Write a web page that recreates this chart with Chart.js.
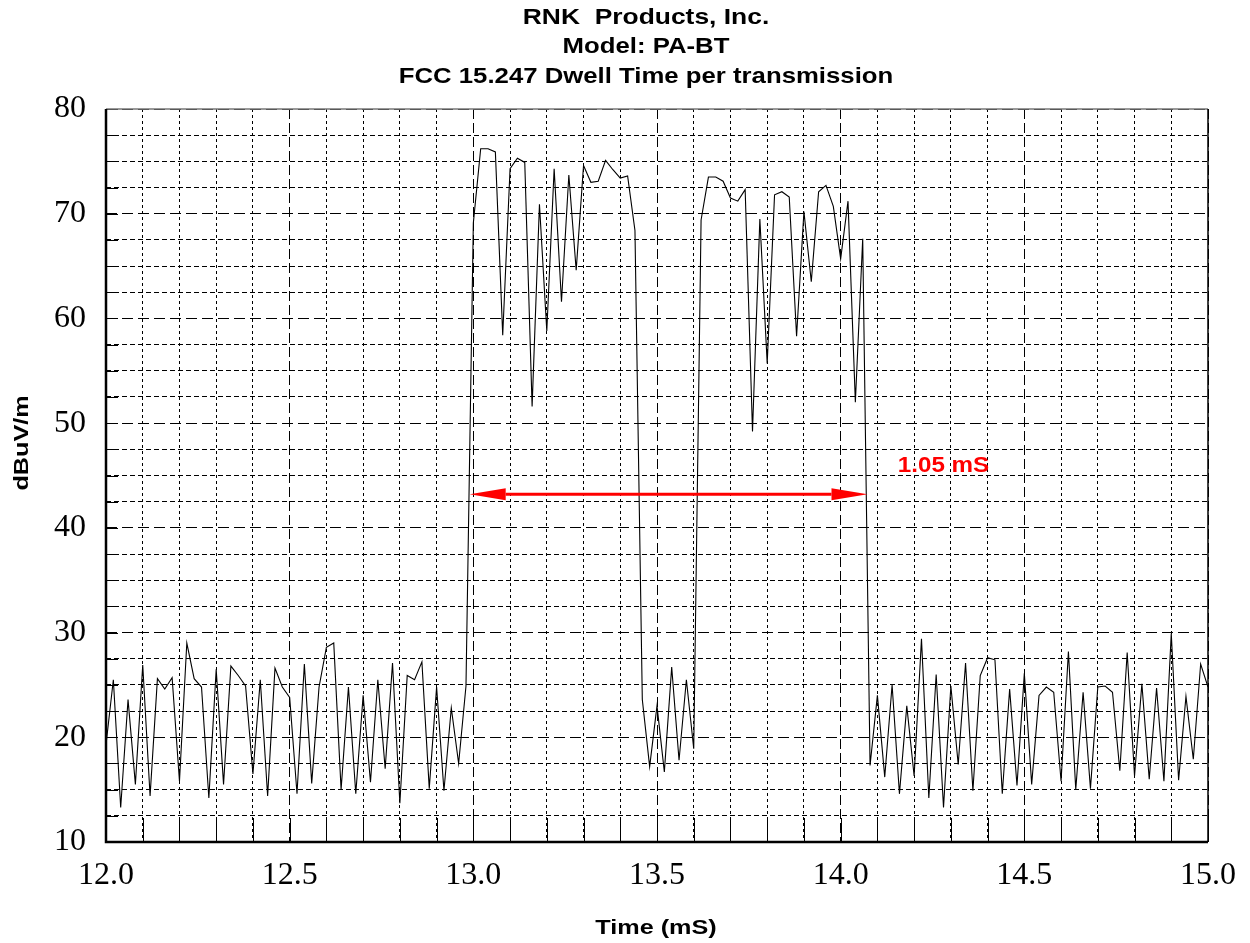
<!DOCTYPE html>
<html lang="en">
<head>
    <meta charset="UTF-8">
    <title>FCC 15.247 Dwell Time per transmission</title>
    <script src="https://cdn.jsdelivr.net/npm/chart.js"></script>
    <style>
        body {
            margin: 0;
            padding: 0;
            background-color: white;
        }

        #dwellChart {
            display: block;
        }
    </style>
</head>
<body>
    <canvas id="dwellChart" width="1250" height="943"></canvas>

    <script>
        // chart text
        const titleLines = ['RNK  Products, Inc.', 'Model: PA-BT', 'FCC 15.247 Dwell Time per transmission'];
        const xTitle = 'Time (mS)';
        const yTitle = 'dBuV/m';

        // axes
        const timeMin = 12.0;
        const timeMax = 15.0;
        const levelMin = 10;
        const levelMax = 80;

        // sweep samples: first sample time and spacing (mS)
        const sampleStart = 12.0;
        const sampleStep = 0.02;

        // measured level (dBuV/m), one value per sample
        const levels = [
            19.3, 25.5, 13.3, 23.6, 15.5, 26.9, 14.4, 25.6, 24.6, 25.7,
            15.8, 29.0, 25.6, 24.8, 14.2, 26.5, 15.5, 26.8, 25.9, 24.9,
            16.5, 25.5, 14.4, 26.6, 24.8, 23.8, 14.6, 27.0, 15.6, 24.8,
            28.6, 29.0, 15.0, 24.8, 14.6, 24.0, 15.7, 25.5, 17.0, 27.1,
            13.7, 25.9, 25.5, 27.2, 15.1, 24.8, 14.9, 22.8, 17.5, 24.9,
            69.1, 76.2, 76.2, 75.9, 58.4, 74.3, 75.3, 74.9, 51.6, 70.9,
            58.8, 74.3, 61.6, 73.7, 64.6, 74.6, 73.0, 73.1, 75.1, 74.2,
            73.4, 73.6, 68.4, 23.6, 17.2, 23.0, 16.7, 26.7, 17.8, 25.5,
            18.9, 69.4, 73.5, 73.5, 73.1, 71.5, 71.2, 72.3, 49.2, 69.5,
            55.7, 71.8, 72.1, 71.6, 58.3, 70.2, 63.5, 72.1, 72.7, 70.7,
            65.7, 71.2, 52.0, 67.6, 17.3, 24.0, 16.2, 25.0, 14.6, 23.0,
            16.3, 29.4, 14.2, 26.0, 13.3, 24.9, 17.4, 27.1, 14.9, 25.9,
            27.6, 27.4, 14.6, 24.6, 15.4, 26.1, 15.5, 24.0, 24.8, 24.3,
            15.8, 28.2, 15.0, 24.3, 15.1, 24.8, 24.9, 24.3, 16.8, 28.1,
            16.3, 25.1, 16.0, 24.7, 15.8, 29.9, 15.9, 23.9, 17.9, 27.0,
            24.8
        ];

        // dwell time marker
        const dwellLabel = '1.05 mS';
        const dwellStart = 12.99;
        const dwellEnd = 14.073;
        const dwellLevel = 43.2;
        const dwellLabelAt = [14.28, 45.9];

        const points = levels.map((v, i) => ({ x: sampleStart + i * sampleStep, y: v }));

        const isMultiple = (v, m) => Math.abs(v / m - Math.round(v / m)) < 1e-6;

        function drawText(ctx, text, x, y, font, color, sx, angle) {
            ctx.save();
            ctx.translate(x, y);
            if (angle) ctx.rotate(angle);
            ctx.scale(sx, 1);
            ctx.font = font;
            ctx.fillStyle = color;
            ctx.textAlign = 'center';
            ctx.textBaseline = 'middle';
            ctx.fillText(text, 0, 0);
            ctx.restore();
        }

        const decorations = {
            id: 'decorations',
            afterDatasetsDraw(chart) {
                const { ctx, chartArea: a, scales: { x, y } } = chart;
                ctx.save();
                ctx.strokeStyle = '#000';
                ctx.lineWidth = 1;
                // inner tick marks
                x.ticks.forEach(t => {
                    const px = Math.round(x.getPixelForValue(t.value)) + 0.5;
                    ctx.beginPath();
                    ctx.moveTo(px, a.bottom);
                    ctx.lineTo(px, a.bottom - 24);
                    ctx.stroke();
                });
                y.ticks.forEach(t => {
                    const py = Math.round(y.getPixelForValue(t.value)) + 0.5;
                    ctx.beginPath();
                    ctx.moveTo(a.left, py);
                    ctx.lineTo(a.left + 12, py);
                    ctx.stroke();
                });
                // frame
                ctx.strokeStyle = '#777';
                ctx.lineWidth = 1.5;
                ctx.beginPath();
                ctx.moveTo(a.left, a.top);
                ctx.lineTo(a.right, a.top);
                ctx.stroke();
                ctx.strokeStyle = '#000';
                ctx.beginPath();
                ctx.moveTo(a.right, a.top);
                ctx.lineTo(a.right, a.bottom);
                ctx.stroke();
                ctx.lineWidth = 2.5;
                ctx.beginPath();
                ctx.moveTo(a.left, a.top);
                ctx.lineTo(a.left, a.bottom);
                ctx.lineTo(a.right, a.bottom);
                ctx.stroke();

                // dwell arrow
                const x1 = x.getPixelForValue(dwellStart);
                const x2 = x.getPixelForValue(dwellEnd);
                const py = y.getPixelForValue(dwellLevel);
                const head = 36, half = 6;
                ctx.strokeStyle = '#ff0000';
                ctx.fillStyle = '#ff0000';
                ctx.lineWidth = 3;
                ctx.beginPath();
                ctx.moveTo(x1 + head, py);
                ctx.lineTo(x2 - head, py);
                ctx.stroke();
                ctx.beginPath();
                ctx.moveTo(x1, py);
                ctx.lineTo(x1 + head, py - half);
                ctx.lineTo(x1 + head, py + half);
                ctx.closePath();
                ctx.fill();
                ctx.beginPath();
                ctx.moveTo(x2, py);
                ctx.lineTo(x2 - head, py - half);
                ctx.lineTo(x2 - head, py + half);
                ctx.closePath();
                ctx.fill();
                ctx.restore();

                drawText(ctx, dwellLabel, x.getPixelForValue(dwellLabelAt[0]), y.getPixelForValue(dwellLabelAt[1]),
                    'bold 22px "Liberation Sans"', '#ff0000', 1.1, 0);
            },
            afterDraw(chart) {
                const { ctx } = chart;
                const titleFont = 'bold 22px "Liberation Sans"';
                drawText(ctx, titleLines[0], 646, 18, titleFont, '#000', 1.2, 0);
                drawText(ctx, titleLines[1], 646, 47, titleFont, '#000', 1.17, 0);
                drawText(ctx, titleLines[2], 646, 77, titleFont, '#000', 1.17, 0);
                drawText(ctx, xTitle, 656, 928, 'bold 21px "Liberation Sans"', '#000', 1.2, 0);
                drawText(ctx, yTitle, 22, 443, 'bold 21px "Liberation Sans"', '#000', 1.2, -Math.PI / 2);
            }
        };

        const ctx = document.getElementById('dwellChart').getContext('2d');

        new Chart(ctx, {
            type: 'line',
            data: {
                datasets: [{
                    data: points,
                    borderColor: '#000',
                    borderWidth: 1.1,
                    pointRadius: 0,
                    tension: 0,
                    fill: false
                }]
            },
            options: {
                responsive: false,
                animation: false,
                devicePixelRatio: 1,
                layout: { padding: { top: 109, right: 41, left: 0, bottom: 0 } },
                plugins: {
                    legend: { display: false },
                    title: { display: false },
                    tooltip: { enabled: false }
                },
                scales: {
                    x: {
                        type: 'linear',
                        min: timeMin,
                        max: timeMax,
                        afterFit: s => { s.height = 101; },
                        border: {
                            display: false,
                            dash: c => (c.tick && isMultiple(c.tick.value, 0.5)) ? [10, 4] : [3, 3]
                        },
                        grid: { color: '#000', lineWidth: 1, drawTicks: false },
                        ticks: {
                            stepSize: 0.1,
                            maxTicksLimit: 100,
                            autoSkip: false,
                            maxRotation: 0,
                            padding: 14,
                            color: '#000',
                            font: { family: '"Liberation Serif"', size: 32 },
                            callback: v => isMultiple(v, 0.5) ? v.toFixed(1) : ''
                        }
                    },
                    y: {
                        min: levelMin,
                        max: levelMax,
                        afterFit: s => { s.width = 106; },
                        border: {
                            display: false,
                            dash: c => (c.tick && isMultiple(c.tick.value, 10)) ? [11, 5] : [5, 3]
                        },
                        grid: { color: '#000', lineWidth: 1, drawTicks: false },
                        ticks: {
                            stepSize: 2.5,
                            maxTicksLimit: 100,
                            autoSkip: false,
                            padding: 20,
                            color: '#000',
                            font: { family: '"Liberation Serif"', size: 32 },
                            callback: v => isMultiple(v, 10) ? String(v) : ''
                        }
                    }
                }
            },
            plugins: [decorations]
        });
    </script>
</body>
</html>
